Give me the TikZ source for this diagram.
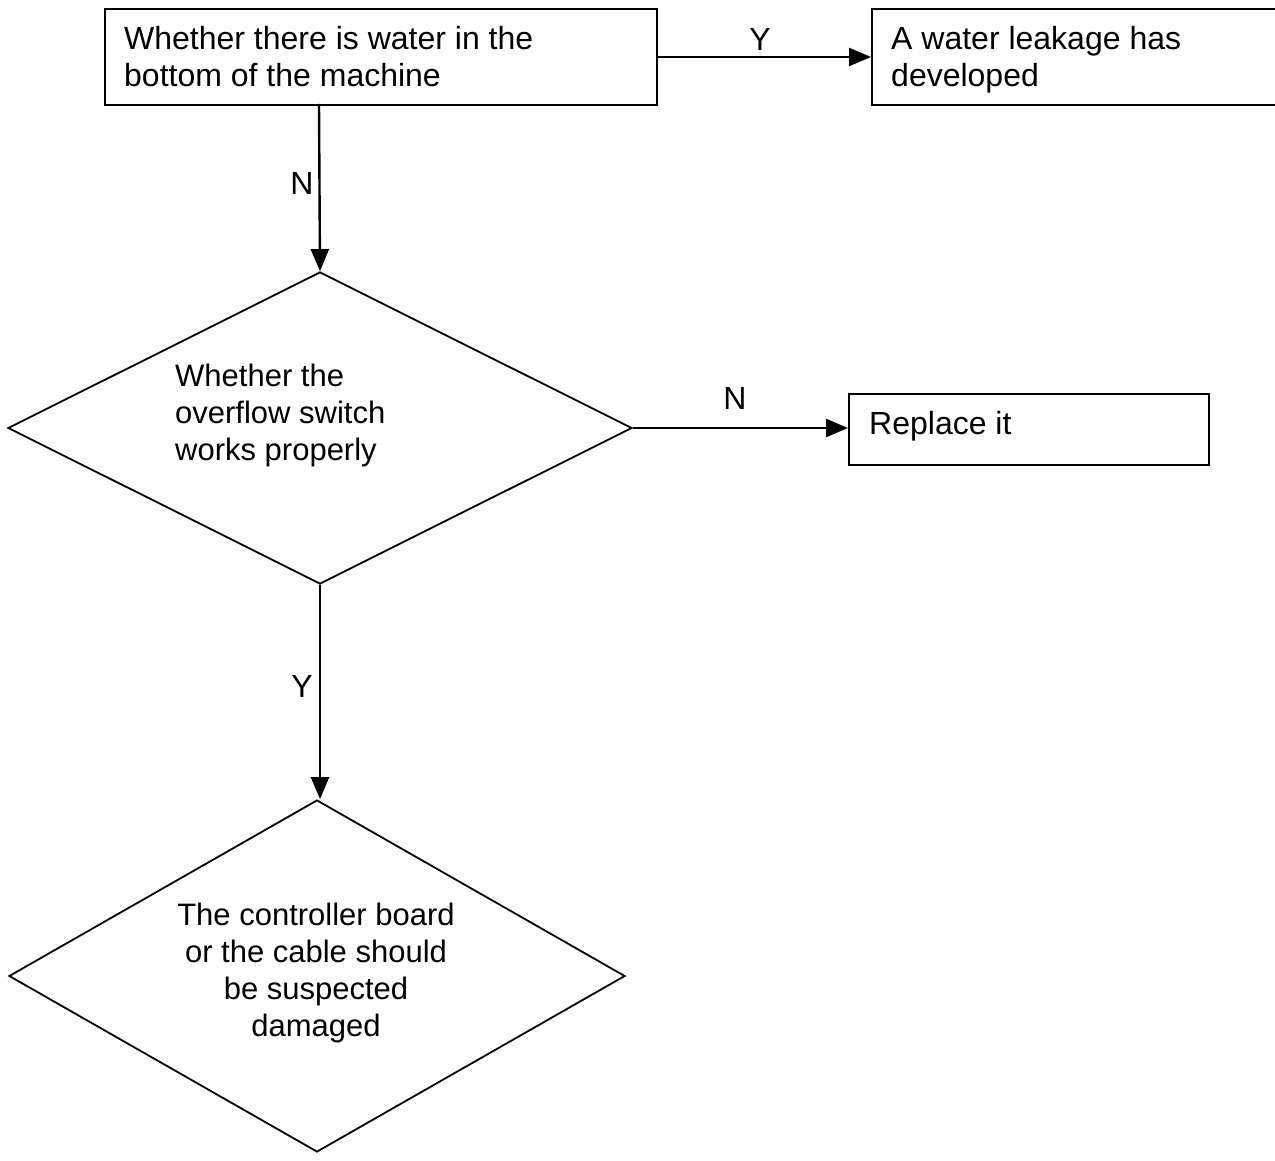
\documentclass[tikz,border=0pt]{standalone}
\usepackage{fontspec}
\setmainfont{Liberation Sans}
\usetikzlibrary{shapes.geometric,arrows.meta}
\begin{document}
\begin{tikzpicture}[x=1pt,y=-1pt,
  every node/.style={font=\fontsize{32}{37}\selectfont},
  dfont/.style={font=\fontsize{31}{37}\selectfont},
  box/.style={draw,line width=2.4pt,rectangle,anchor=north west,inner sep=0pt},
  dia/.style={draw,line width=1.8pt,diamond,inner sep=0pt},
  txt/.style={inner sep=0pt,align=left,anchor=north west},
  lbl/.style={inner sep=0pt},
  arr/.style={line width=2.4pt,-{Triangle[length=22pt,width=18pt]}}]
\useasboundingbox (0,0) rectangle (1275,1161);
\node[box,minimum width=552pt,minimum height=96pt] (b1) at (104,8) {};
\node[txt] (t1) at (124,26) {Whether there is water in the\\bottom of the machine};
\node[box,minimum width=404pt,minimum height=96pt] (b2) at (871,8) {};
\node[txt] (t2) at (891,26) {A water leakage has\\developed};
\node[dia,minimum width=624pt,minimum height=312pt] (d1) at (320,428) {};
\node[txt,dfont] (t3) at (175,364) {Whether the\\overflow switch\\works properly};
\node[box,minimum width=360pt,minimum height=71pt] (b3) at (848,393) {};
\node[txt] (t4) at (869,411) {Replace it};
\node[dia,minimum width=616pt,minimum height=352pt] (d2) at (317,976) {};
\node[inner sep=0pt,align=center,dfont] (t5) at (316,973) {The controller board\\or the cable should\\be suspected\\ damaged};
\coordinate (b1s) at (319,104);
\draw[arr] (b1.east |- 0,57) -- (b2.west |- 0,57);
\draw[arr] (b1s) -- (d1.north);
\draw[arr] (d1.east) -- (b3.west |- d1.east);
\draw[arr] (d1.south) -- (d1.south |- d2.north);
\node[lbl] (ly1) at (760,39) {Y};
\node[lbl] (ln1) at (302,183) {N};
\node[lbl] (ln2) at (735,398) {N};
\node[lbl] (ly2) at (302,686) {Y};
\end{tikzpicture}
\end{document}
